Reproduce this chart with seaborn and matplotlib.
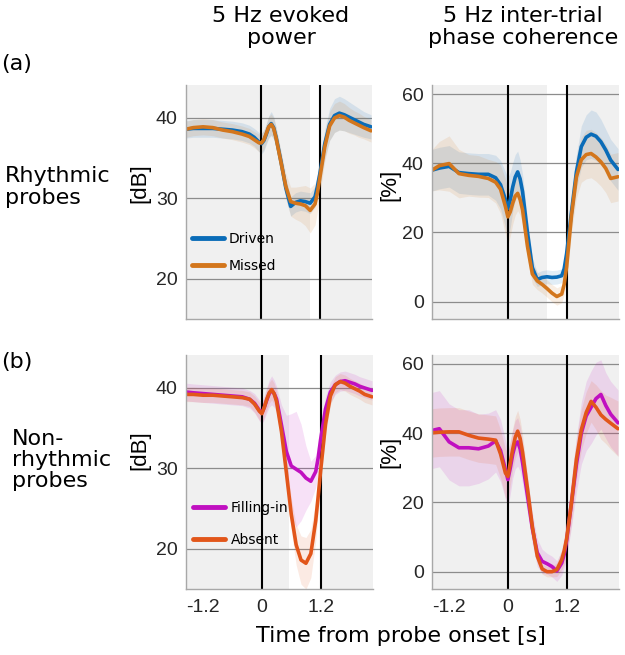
import matplotlib
matplotlib.use("Agg")
import matplotlib.pyplot as plt
import seaborn as sns
import numpy as np
import pandas as pd
from matplotlib.font_manager import FontProperties

sns.set_style("white")
plt.rcParams['font.family'] = ['DejaVu Sans']
plt.rcParams['text.color'] = 'black'

# ---------------- data ----------------
TIME = [-1.55, -1.4, -1.2, -1.0, -0.8, -0.6, -0.4, -0.25, -0.15, -0.05, 0.0, 0.05,
        0.1, 0.15, 0.2, 0.25, 0.3, 0.4, 0.5, 0.6, 0.7, 0.8, 0.9, 1.0, 1.1, 1.15,
        1.2, 1.3, 1.4, 1.5, 1.6, 1.7, 1.8, 1.9, 2.0, 2.1, 2.25]

# (a) rhythmic probes, evoked power [dB]
pow_driven = [38.6, 38.7, 38.7, 38.7, 38.6, 38.5, 38.3, 38.0, 37.6, 37.0, 36.8, 37.2,
              38.0, 38.9, 39.3, 38.8, 37.6, 34.6, 31.3, 29.0, 29.5, 29.7, 29.6, 29.4, 30.2, 31.5,
              33.1, 36.8, 39.2, 40.3, 40.6, 40.4, 40.1, 39.8, 39.5, 39.2, 38.9]
pow_driven_err = [1.1, 1.1, 1.1, 1.1, 1.1, 1.1, 1.1, 1.1, 1.1, 1.2, 1.3, 1.3,
                  1.3, 1.4, 1.5, 1.4, 1.3, 1.2, 1.2, 1.2, 1.2, 1.2, 1.2, 1.3, 1.3, 1.4,
                  1.5, 1.8, 2.0, 2.1, 2.1, 2.0, 1.9, 1.8, 1.7, 1.6, 1.5]
pow_missed = [38.6, 38.8, 38.9, 38.8, 38.5, 38.3, 38.0, 37.7, 37.3, 36.9, 36.9, 37.3,
              38.1, 38.9, 39.2, 38.7, 37.5, 34.5, 31.5, 29.6, 29.4, 29.3, 29.1, 28.5, 29.3, 30.7,
              32.6, 36.4, 39.0, 40.0, 40.3, 40.1, 39.7, 39.4, 39.1, 38.8, 38.4]
pow_missed_err = [1.0, 1.0, 1.0, 1.0, 1.0, 1.0, 1.0, 1.0, 1.0, 1.1, 1.2, 1.2,
                  1.2, 1.3, 1.3, 1.3, 1.3, 1.4, 1.6, 1.8, 2.0, 2.2, 2.5, 2.8, 2.6, 2.3,
                  2.0, 1.8, 1.8, 1.8, 1.8, 1.7, 1.6, 1.5, 1.5, 1.4, 1.4]

# (a) rhythmic probes, inter-trial phase coherence [%]
itc_driven = [38.0, 38.6, 39.1, 37.3, 37.0, 36.8, 36.8, 35.8, 33.8, 29.5, 26.9, 29.5,
              33.2, 36.0, 37.5, 35.5, 31.8, 20.0, 9.8, 6.4, 7.0, 7.2, 7.0, 7.1, 7.5, 9.5,
              13.9, 26.0, 37.5, 44.8, 47.5, 48.4, 47.8, 46.2, 43.8, 40.9, 38.2]
itc_driven_err = [6, 6, 6, 6, 6, 6, 6, 6.5, 7, 8, 9, 8,
                  7, 6.5, 6, 5.5, 5, 4, 3, 2, 2, 2, 2, 2, 2, 2.5,
                  3, 4, 5, 6, 6.5, 7, 7, 6.5, 6, 6, 6]
itc_missed = [38.0, 39.3, 39.9, 37.0, 36.5, 36.2, 35.6, 34.5, 32.5, 27.5, 24.5, 26.0,
              28.5, 30.5, 31.3, 29.5, 26.5, 16.0, 8.0, 6.0, 5.0, 3.8, 2.5, 1.5, 2.2, 5.0,
              10.1, 25.0, 36.0, 41.0, 42.5, 42.8, 41.8, 40.4, 38.5, 35.6, 36.1]
itc_missed_err = [6, 7, 8, 7, 6, 6, 5.5, 6, 7, 8, 8, 7,
                  6, 5.5, 5, 4.5, 4, 3.5, 3, 2.5, 2.5, 2.5, 2.5, 2.5, 2.5, 3,
                  4, 5, 6, 6.5, 7, 7, 7, 7, 7, 7, 7]

# (b) non-rhythmic probes, evoked power [dB]
pow_filling = [39.5, 39.4, 39.3, 39.2, 39.1, 39.0, 38.9, 38.6, 38.1, 37.2, 36.9, 37.6,
               38.5, 39.3, 39.7, 39.3, 38.6, 35.4, 32.1, 30.3, 29.9, 29.5, 28.8, 28.4, 29.6, 31.3,
               33.6, 37.4, 39.5, 40.4, 40.8, 40.9, 40.7, 40.5, 40.2, 40.0, 39.7]
pow_filling_err = [1.1, 1.1, 1.1, 1.1, 1.1, 1.1, 1.1, 1.1, 1.2, 1.3, 1.4, 1.5,
                   1.6, 1.7, 1.8, 1.7, 1.6, 2.5, 4.5, 6.5, 7.2, 6.0, 4.0, 2.5, 2.0, 2.0,
                   2.0, 1.6, 1.3, 1.2, 1.2, 1.2, 1.2, 1.2, 1.2, 1.2, 1.2]
pow_absent = [39.2, 39.2, 39.1, 39.1, 39.0, 38.9, 38.8, 38.6, 38.0, 37.1, 36.8, 37.6,
              38.6, 39.4, 39.8, 39.3, 38.3, 34.6, 29.5, 24.3, 20.5, 18.6, 18.2, 19.4, 23.5, 26.5,
              29.7, 35.5, 39.0, 40.4, 40.8, 40.6, 40.2, 39.9, 39.6, 39.2, 38.9]
pow_absent_err = [0.9, 0.9, 0.9, 0.9, 0.9, 0.9, 0.9, 0.9, 1.0, 1.1, 1.2, 1.2,
                  1.3, 1.3, 1.3, 1.3, 1.3, 1.4, 1.6, 2.0, 2.5, 3.0, 3.2, 3.0, 2.5, 2.0,
                  1.8, 1.3, 1.1, 1.0, 1.0, 1.0, 1.0, 1.0, 1.0, 1.0, 1.0]

# (b) non-rhythmic probes, inter-trial phase coherence [%]
itc_filling = [40.8, 41.3, 37.5, 35.8, 35.8, 35.5, 36.3, 37.8, 35.0, 29.5, 26.6, 30.0,
               34.0, 36.7, 37.5, 35.5, 31.5, 22.0, 12.5, 5.5, 3.0, 2.3, 1.5, 0.2, 2.5, 5.0,
               9.0, 20.0, 31.0, 40.0, 45.0, 47.5, 50.0, 51.2, 48.0, 45.5, 43.0]
itc_filling_err = [11, 11, 11, 11, 11, 10, 9.5, 9, 9, 8.5, 8, 7.5,
                   7, 7, 7, 6.5, 6, 5, 4.5, 4, 3.5, 3, 3, 3, 3.5, 4,
                   5, 7, 8, 9, 10, 10.5, 10.5, 10, 9.5, 9.5, 9.5]
itc_absent = [40.1, 40.3, 40.4, 40.4, 39.4, 38.6, 38.3, 38.0, 34.0, 28.5, 27.5, 31.5,
              35.5, 38.8, 40.6, 38.5, 34.5, 24.0, 13.0, 4.5, 0.8, 0.0, 0.0, 0.6, 3.5, 6.0,
              9.5, 20.0, 32.5, 41.0, 46.0, 49.2, 47.5, 45.3, 44.0, 42.9, 41.3]
itc_absent_err = [7, 7, 7, 7, 7, 7, 7, 7, 7, 7, 7, 6.5,
                  6, 6, 6, 5.5, 5, 4, 3, 2, 1.5, 1.5, 1.5, 2, 3, 4,
                  5, 6, 6, 6, 6, 6, 6.5, 7, 7, 7.5, 8]

# significance windows (white = significant difference)
SIG_WINDOWS = [(1.0, 1.2), (0.8, 1.2), (0.55, 1.2), None]

C_DRIVEN = '#0a6cb8'
C_MISSED = '#d3761c'
C_FILLING = '#c010c0'
C_ABSENT = '#e2561a'

XLIM = (-1.55, 2.27)
XTICKS = [-1.2, -0.6, 0, 0.6, 1.2, 1.8]
XTICKLABELS = ['-1.2', '', '0', '', '1.2', '']

W, H = 625, 655
fig = plt.figure(figsize=(W / 100, H / 100), dpi=100)
arial = FontProperties(family='Liberation Sans', size=14)
arial_lab = FontProperties(family='Liberation Sans', size=16)


def make_ax(left, top, right, bottom):
    return fig.add_axes([left / W, 1 - bottom / H, (right - left) / W, (bottom - top) / H])


ax_tl = make_ax(186, 85, 372, 319)
ax_tr = make_ax(432, 85, 619, 319)
ax_bl = make_ax(186, 355, 373, 589)
ax_br = make_ax(432, 355, 619, 589)

panels = [
    (ax_tl, [(pow_driven, pow_driven_err, C_DRIVEN, 'Driven'),
             (pow_missed, pow_missed_err, C_MISSED, 'Missed')],
     (15, 44.1), [20, 30, 40], SIG_WINDOWS[0], True, False),
    (ax_tr, [(itc_driven, itc_driven_err, C_DRIVEN, 'Driven'),
             (itc_missed, itc_missed_err, C_MISSED, 'Missed')],
     (-5, 62.6), [0, 20, 40, 60], SIG_WINDOWS[1], False, False),
    (ax_bl, [(pow_filling, pow_filling_err, C_FILLING, 'Filling-in'),
             (pow_absent, pow_absent_err, C_ABSENT, 'Absent')],
     (15, 44.1), [20, 30, 40], SIG_WINDOWS[2], True, True),
    (ax_br, [(itc_filling, itc_filling_err, C_FILLING, 'Filling-in'),
             (itc_absent, itc_absent_err, C_ABSENT, 'Absent')],
     (-5, 62.6), [0, 20, 40, 60], SIG_WINDOWS[3], False, True),
]

t_arr = np.array(TIME)
for ax, series, ylim, yticks, sig, show_leg, show_xlabels in panels:
    ax.set_facecolor('#f0f0f0')
    if sig is not None:
        ax.axvspan(sig[0], sig[1], color='white', zorder=0.1, lw=0)
    for vals, err, col, lab in series:
        v = np.array(vals)
        e = np.array(err)
        ax.fill_between(t_arr, v - e, v + e, color=col, alpha=0.12, lw=0, zorder=1)
    ax.axvline(0, color='black', lw=1.5, zorder=1.6)
    ax.axvline(1.2, color='black', lw=1.5, zorder=1.6)
    for vals, err, col, lab in series:
        df = pd.DataFrame({'t': TIME, 'v': vals})
        sns.lineplot(data=df, x='t', y='v', color=col, lw=2.6, ax=ax, label=lab, zorder=2)
    ax.set_xlim(*XLIM)
    ax.set_ylim(*ylim)
    ax.set_yticks(yticks)
    ax.set_yticklabels([str(v) for v in yticks])
    ax.set_xticks(XTICKS)
    ax.set_xticklabels(XTICKLABELS if show_xlabels else [''] * len(XTICKS))
    for lbl in ax.get_xticklabels() + ax.get_yticklabels():
        lbl.set_fontproperties(arial)
        lbl.set_color('#262626')
    ax.set_xlabel('')
    ax.set_ylabel('')
    ax.yaxis.grid(True, color='#8c8c8c', lw=0.9)
    ax.xaxis.grid(False)
    ax.set_axisbelow(True)
    for s in ['top', 'right']:
        ax.spines[s].set_visible(False)
    for s in ['left', 'bottom']:
        ax.spines[s].set_color('#a8a8a8')
        ax.spines[s].set_linewidth(1.0)
    ax.tick_params(axis='x', direction='in', length=4, color='#909090', pad=7)
    ax.tick_params(axis='y', length=0, pad=6)
    if show_leg:
        anchor = (0.03, 0.372) if not show_xlabels else (0.037, 0.376)
        spacing = 0.95 if not show_xlabels else 1.3
        leg = ax.legend(loc='upper left', bbox_to_anchor=anchor, frameon=False,
                        fontsize=10, handlelength=2.3, handletextpad=0.4,
                        labelspacing=spacing, borderpad=0, borderaxespad=0)
        for h in leg.get_lines():
            h.set_linewidth(3.5)
        for tx in leg.get_texts():
            tx.set_color('black')
    else:
        lg = ax.get_legend()
        if lg is not None:
            lg.remove()

# texts
fig.text(281 / W, 1 - 27 / H, '5 Hz evoked\npower', ha='center', va='center',
         fontsize=16, linespacing=1.1)
fig.text(523 / W, 1 - 27 / H, '5 Hz inter-trial\nphase coherence', ha='center', va='center',
         fontsize=16, linespacing=1.1)
fig.text(1 / W, 1 - 64 / H, '(a)', ha='left', va='center', fontsize=16)
fig.text(1 / W, 1 - 362 / H, '(b)', ha='left', va='center', fontsize=16)
fig.text(5 / W, 1 - 187 / H, 'Rhythmic\nprobes', ha='left', va='center', fontsize=16,
         linespacing=1.1)
fig.text(12 / W, 1 - 460 / H, 'Non-\nrhythmic\nprobes', ha='left', va='center', fontsize=16,
         linespacing=1.05)
for xx, yy, s in [(140, 183, '[dB]'), (140, 450, '[dB]'), (390, 185, '[%]'), (390, 452, '[%]')]:
    fig.text(xx / W, 1 - yy / H, s, rotation=90, ha='center', va='center',
             fontproperties=arial_lab, color='black')
fig.text(401 / W, 1 - 636 / H, 'Time from probe onset [s]', ha='center', va='center',
         fontsize=16)

fig.savefig('out.png', dpi=100)
